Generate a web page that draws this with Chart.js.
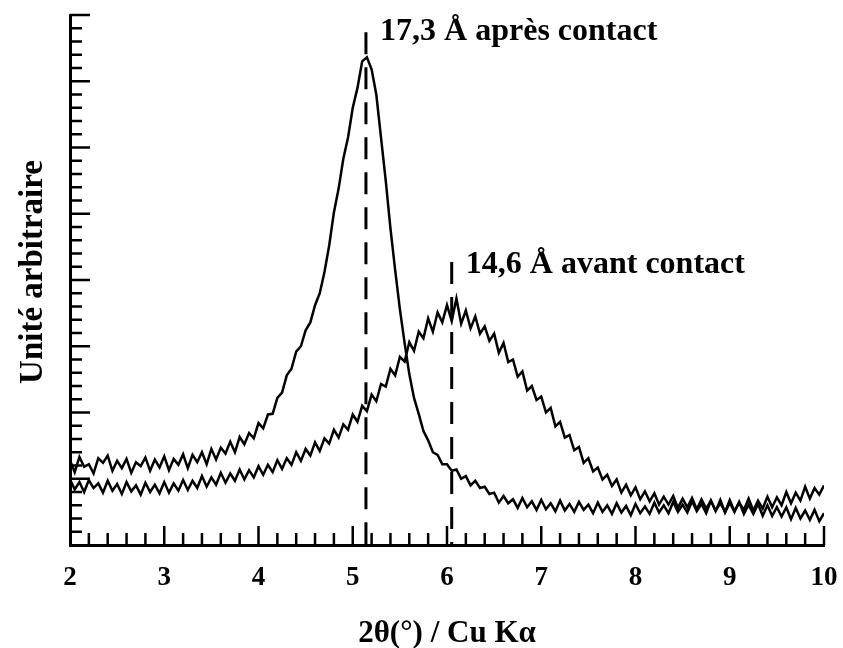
<!DOCTYPE html>
<html>
<head>
<meta charset="utf-8">
<script src="https://cdn.jsdelivr.net/npm/chart.js@4"></script>
<style>
  html, body { margin: 0; padding: 0; background: #fff; }
  #wrap { width: 843px; height: 648px; }
</style>
</head>
<body>
<div id="wrap"><canvas id="xrdChart" width="843" height="648"></canvas></div>
<script>
// 2θ (°) sampling of the two diffractograms
const angles = [
  2.00, 2.05, 2.10, 2.15, 2.20, 2.25, 2.30, 2.35, 2.40, 2.45,
  2.50, 2.55, 2.60, 2.65, 2.70, 2.75, 2.80, 2.85, 2.90, 2.95,
  3.00, 3.05, 3.10, 3.15, 3.20, 3.25, 3.30, 3.35, 3.40, 3.45,
  3.50, 3.55, 3.60, 3.65, 3.70, 3.75, 3.80, 3.85, 3.90, 3.95,
  4.00, 4.05, 4.10, 4.15, 4.20, 4.25, 4.30, 4.35, 4.40, 4.45,
  4.50, 4.55, 4.60, 4.65, 4.70, 4.75, 4.80, 4.85, 4.90, 4.95,
  5.00, 5.05, 5.10, 5.15, 5.20, 5.25, 5.30, 5.35, 5.40, 5.45,
  5.50, 5.55, 5.60, 5.65, 5.70, 5.75, 5.80, 5.85, 5.90, 5.95,
  6.00, 6.05, 6.10, 6.15, 6.20, 6.25, 6.30, 6.35, 6.40, 6.45,
  6.50, 6.55, 6.60, 6.65, 6.70, 6.75, 6.80, 6.85, 6.90, 6.95,
  7.00, 7.05, 7.10, 7.15, 7.20, 7.25, 7.30, 7.35, 7.40, 7.45,
  7.50, 7.55, 7.60, 7.65, 7.70, 7.75, 7.80, 7.85, 7.90, 7.95,
  8.00, 8.05, 8.10, 8.15, 8.20, 8.25, 8.30, 8.35, 8.40, 8.45,
  8.50, 8.55, 8.60, 8.65, 8.70, 8.75, 8.80, 8.85, 8.90, 8.95,
  9.00, 9.05, 9.10, 9.15, 9.20, 9.25, 9.30, 9.35, 9.40, 9.45,
  9.50, 9.55, 9.60, 9.65, 9.70, 9.75, 9.80, 9.85, 9.90, 9.95,
  10.00
];

// intensity after contact (17,3 Å peak), arbitrary units
const apresContact = [
  1.28, 1.10, 1.33, 1.18, 1.22, 1.08, 1.31, 1.24, 1.35, 1.12,
  1.27, 1.16, 1.30, 1.09, 1.25, 1.19, 1.32, 1.12, 1.29, 1.17,
  1.34, 1.13, 1.30, 1.21, 1.37, 1.16, 1.36, 1.25, 1.40, 1.22,
  1.45, 1.29, 1.47, 1.38, 1.56, 1.40, 1.63, 1.52, 1.69, 1.61,
  1.84, 1.76, 1.97, 1.98, 2.22, 2.30, 2.56, 2.66, 2.92, 3.00,
  3.24, 3.36, 3.62, 3.80, 4.12, 4.52, 5.02, 5.38, 5.83, 6.15,
  6.60, 6.90, 7.30, 7.36, 7.18, 6.80, 6.15, 5.50, 4.78, 4.15,
  3.56, 3.05, 2.58, 2.22, 1.98, 1.72, 1.58, 1.40, 1.36, 1.22,
  1.22, 1.12, 1.14, 1.00, 1.04, 0.90, 0.97, 0.86, 0.88, 0.77,
  0.79, 0.64, 0.74, 0.63, 0.69, 0.56, 0.71, 0.57, 0.66, 0.53,
  0.68, 0.54, 0.63, 0.51, 0.67, 0.52, 0.62, 0.50, 0.65, 0.53,
  0.61, 0.48, 0.64, 0.50, 0.60, 0.47, 0.63, 0.49, 0.59, 0.45,
  0.62, 0.48, 0.58, 0.47, 0.64, 0.49, 0.60, 0.48, 0.65, 0.50,
  0.61, 0.49, 0.66, 0.51, 0.62, 0.48, 0.67, 0.52, 0.63, 0.50,
  0.68, 0.51, 0.64, 0.53, 0.70, 0.52, 0.67, 0.55, 0.73, 0.57,
  0.72, 0.60, 0.80, 0.63, 0.79, 0.67, 0.88, 0.70, 0.86, 0.76,
  0.90
];

// intensity before contact (14,6 Å peak), arbitrary units
const avantContact = [
  0.99, 0.84, 0.95, 0.80, 0.98, 0.86, 0.93, 0.79, 0.97, 0.82,
  0.92, 0.77, 0.95, 0.81, 0.90, 0.76, 0.94, 0.80, 0.91, 0.78,
  0.95, 0.79, 0.93, 0.82, 0.98, 0.83, 0.97, 0.86, 1.04, 0.88,
  1.02, 0.91, 1.09, 0.94, 1.08, 0.97, 1.14, 0.99, 1.13, 1.02,
  1.19, 1.06, 1.21, 1.10, 1.28, 1.15, 1.31, 1.21, 1.40, 1.27,
  1.45, 1.35, 1.55, 1.42, 1.61, 1.53, 1.74, 1.62, 1.82, 1.74,
  1.97, 1.86, 2.10, 2.02, 2.27, 2.17, 2.43, 2.39, 2.66, 2.56,
  2.84, 2.77, 3.06, 2.93, 3.22, 3.12, 3.42, 3.22, 3.51, 3.36,
  3.62, 3.38, 3.72, 3.34, 3.54, 3.27, 3.45, 3.19, 3.30, 3.08,
  3.19, 2.90, 3.05, 2.76, 2.80, 2.54, 2.62, 2.33, 2.40, 2.19,
  2.24, 2.00, 2.07, 1.79, 1.86, 1.62, 1.66, 1.43, 1.48, 1.24,
  1.31, 1.11, 1.17, 0.99, 1.06, 0.89, 0.99, 0.79, 0.91, 0.75,
  0.87, 0.69, 0.81, 0.66, 0.78, 0.61, 0.73, 0.61, 0.74, 0.56,
  0.70, 0.57, 0.71, 0.54, 0.69, 0.55, 0.67, 0.51, 0.68, 0.49,
  0.64, 0.50, 0.65, 0.47, 0.61, 0.47, 0.62, 0.44, 0.60, 0.44,
  0.57, 0.43, 0.57, 0.39, 0.56, 0.40, 0.52, 0.38, 0.53, 0.36,
  0.48
];

// dashed reference lines: position (2θ) and top of the line (arbitrary units)
const refAngles = [5.14, 6.05];
const refTops = [7.74, 4.27];
const refLabels = ["17,3 Å après contact", "14,6 Å avant contact"];
const refLabelX = [5.29, 6.20];
const refLabelY = [7.62, 4.11];

const serif = "'Liberation Serif', 'Times New Roman', serif";

const toPoints = (vals) => vals.map((v, i) => ({ x: angles[i], y: v }));

const innerTicks = {
  id: "innerTicks",
  afterDraw(chart) {
    const { ctx, chartArea, scales } = chart;
    const xs = scales.x, ys = scales.y;
    ctx.save();
    ctx.strokeStyle = "#000";
    ctx.lineWidth = 2.5;
    ctx.beginPath();
    for (let i = 1; i <= 40; i++) {
      const y = ys.getPixelForValue(i / 5);
      const len = i % 5 === 0 ? 20 : 12;
      ctx.moveTo(chartArea.left, y);
      ctx.lineTo(chartArea.left + len, y);
    }
    for (let i = 1; i <= 40; i++) {
      const x = xs.getPixelForValue(2 + i / 5);
      const len = i % 5 === 0 ? 19 : 12;
      ctx.moveTo(x, chartArea.bottom);
      ctx.lineTo(x, chartArea.bottom - len);
    }
    ctx.stroke();

    ctx.fillStyle = "#000";
    // peak labels
    ctx.font = "bold 32px " + serif;
    ctx.textAlign = "left";
    ctx.textBaseline = "alphabetic";
    refLabels.forEach((t, i) => {
      ctx.fillText(t, xs.getPixelForValue(refLabelX[i]), ys.getPixelForValue(refLabelY[i]));
    });

    // axis titles
    ctx.textAlign = "center";
    ctx.textBaseline = "middle";
    ctx.font = "bold 31px " + serif;
    ctx.fillText("2θ(°) / Cu Kα", (chartArea.left + chartArea.right) / 2, 634);

    ctx.font = "bold 33px " + serif;
    ctx.translate(33, 272);
    ctx.rotate(-Math.PI / 2);
    ctx.fillText("Unité arbitraire", 0, 0);
    ctx.restore();
  }
};

const datasets = [
  {
    label: "après contact",
    data: toPoints(apresContact),
    borderColor: "#000",
    borderWidth: 2.5,
    pointRadius: 0,
    tension: 0
  },
  {
    label: "avant contact",
    data: toPoints(avantContact),
    borderColor: "#000",
    borderWidth: 2.5,
    pointRadius: 0,
    tension: 0
  }
];
refAngles.forEach((a, i) => {
  datasets.push({
    label: refLabels[i],
    data: [{ x: a, y: refTops[i] }, { x: a, y: 0 }],
    borderColor: "#000",
    borderWidth: 3,
    borderDash: [22, 13],
    pointRadius: 0
  });
});

new Chart(document.getElementById("xrdChart").getContext("2d"), {
  type: "line",
  data: { datasets: datasets },
  options: {
    responsive: false,
    animation: false,
    layout: { padding: { top: 15, right: 19, left: 0, bottom: 0 } },
    plugins: { legend: { display: false }, tooltip: { enabled: false } },
    scales: {
      x: {
        type: "linear",
        min: 2,
        max: 10,
        grid: { display: false, drawTicks: false },
        border: { display: true, color: "#000", width: 3 },
        ticks: {
          stepSize: 1,
          color: "#000",
          padding: 17,
          font: { family: serif, size: 27, weight: "bold" }
        },
        afterFit(scale) {
          scale.height = 103;
          scale.paddingLeft = 0;
          scale.paddingRight = 0;
        }
      },
      y: {
        min: 0,
        max: 8,
        grid: { display: false, drawTicks: false },
        border: { display: true, color: "#000", width: 3 },
        ticks: { display: false },
        afterFit(scale) { scale.width = 70; }
      }
    }
  },
  plugins: [innerTicks]
});
</script>
</body>
</html>
